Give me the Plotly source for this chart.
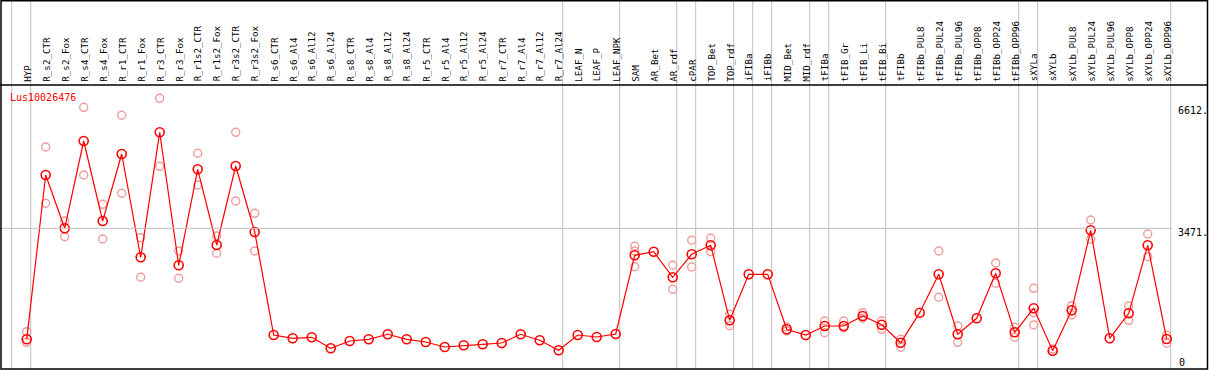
import plotly.graph_objects as go

# ---------------- data ----------------
categories = ["HYP", "R_s2_CTR", "R_s2_Fox", "R_s4_CTR", "R_s4_Fox", "R_r1_CTR", "R_r1_Fox",
              "R_r3_CTR", "R_r3_Fox", "R_r1s2_CTR", "R_r1s2_Fox", "R_r3s2_CTR", "R_r3s2_Fox",
              "R_s6_CTR", "R_s6_Al4", "R_s6_Al12", "R_s6_Al24", "R_s8_CTR", "R_s8_Al4",
              "R_s8_Al12", "R_s8_Al24", "R_r5_CTR", "R_r5_Al4", "R_r5_Al12", "R_r5_Al24",
              "R_r7_CTR", "R_r7_Al4", "R_r7_Al12", "R_r7_Al24", "LEAF_N", "LEAF_P", "LEAF_NPK",
              "SAM", "AR_Bet", "AR_rdf", "cPAR", "TOP_Bet", "TOP_rdf", "iFIBa", "iFIBb",
              "MID_Bet", "MID_rdf", "tFIBa", "tFIB_Gr", "tFIB_Li", "tFIB_Bi", "tFIBb",
              "tFIBb_PUL8", "tFIBb_PUL24", "tFIBb_PUL96", "tFIBb_OPP8", "tFIBb_OPP24",
              "tFIBb_OPP96", "sXYLa", "sXYLb", "sXYLb_PUL8", "sXYLb_PUL24", "sXYLb_PUL96",
              "sXYLb_OPP8", "sXYLb_OPP24", "sXYLb_OPP96"]

mean_values = [621, 4841, 3472, 5714, 3659, 5380, 2727, 5937, 2522, 4987, 3043, 5072, 3377,
               732, 647, 673, 390, 578, 621, 750, 621, 552, 424, 467, 493, 526, 750, 596, 339,
               732, 681, 758, 2779, 2871, 2214, 2804, 3035, 1109, 2291, 2291, 878, 732, 963,
               963, 1220, 996, 534, 1305, 2291, 750, 1161, 2316, 801, 1418, 329, 1366, 3421,
               647, 1289, 3035, 629]

replicates = [[817, 544], [5560, 4114], [3659, 3256], [6579, 4841], [4088, 3197],
              [6374, 4371], [3231, 2214], [6810, 5064], [2889, 2188], [5398, 4584],
              [3274, 2830], [5937, 4173], [3857, 2889],
              [], [], [], [], [], [], [], [], [], [], [], [], [], [], [], [], [], [], [],
              [3010, 2889, 2486], [], [2522, 1905], [3164, 2478], [3215, 2871], [1263, 971],
              [], [], [937, 835], [], [1091, 791], [1091, 912], [1305, 1161], [1091, 878],
              [621, 416], [], [2889, 1700], [963, 544], [], [2581, 2060], [930, 673],
              [1931, 1305, 989], [372], [1484, 1245], [3685, 3190], [], [1477, 1109],
              [3326, 2743], [732, 519]]

gene_name = "Lus10026476"
axis_ticks = [6612, 3471, 0]
axis_tick_text = ["6612.", "3471.", "0"]
separator_after = [-1, 0, 28, 31, 34, 35, 37, 38, 39, 41, 42, 45, 52, 53, 60]

# ---------------- geometry ----------------
W, H = 1209, 370
X0, DX = 26.7, 19.0          # pixel x of first category, spacing
Y0, KY = 363.5, 0.03894      # pixel y of value 0, pixels per unit


def px_to_x(px):
    return (px - X0) / DX


def py_to_paper(py):
    return 1 - py / H


def px_to_paper(px):
    return px / W


MONO = "DejaVu Sans Mono"

fig = go.Figure()

rx, ry = [], []
for i, reps in enumerate(replicates):
    for v in reps:
        rx.append(i)
        ry.append(v)

fig.add_trace(go.Scatter(
    x=rx, y=ry, mode="markers",
    marker=dict(symbol="circle-open", size=8, color="#f09c9c",
                line=dict(width=1.4, color="#f09c9c")),
    hoverinfo="skip"))

fig.add_trace(go.Scatter(
    x=list(range(len(categories))), y=mean_values, mode="lines+markers",
    line=dict(color="#ff0000", width=1.2),
    marker=dict(symbol="circle-open", size=9, color="#ff0000",
                line=dict(width=1.6, color="#ff0000")),
    text=categories, hoverinfo="text+y"))

shapes = []
# horizontal grid line at middle tick
shapes.append(dict(type="line", xref="paper", yref="y", x0=0, x1=px_to_paper(1172),
                   y0=axis_ticks[1], y1=axis_ticks[1],
                   line=dict(color="#c0c0c0", width=1)))
# vertical group separators
for s in separator_after:
    xs = s + 4.0 / DX
    shapes.append(dict(type="line", xref="x", yref="paper", x0=xs, x1=xs, y0=0, y1=1,
                       line=dict(color="#c0c0c0", width=1), layer="below"))
# header separator
shapes.append(dict(type="line", xref="paper", yref="paper", x0=0, x1=px_to_paper(1208),
                   y0=py_to_paper(85), y1=py_to_paper(85),
                   line=dict(color="black", width=1.5)))
# outer frame
shapes.append(dict(type="rect", xref="paper", yref="paper",
                   x0=px_to_paper(1), x1=px_to_paper(1207.5),
                   y0=py_to_paper(369), y1=py_to_paper(0.75),
                   line=dict(color="black", width=1.5)))

annotations = []
for i, c in enumerate(categories):
    annotations.append(dict(x=i, y=py_to_paper(83.5), xref="x", yref="paper", text=c,
                            textangle=-90, xanchor="center", yanchor="bottom",
                            showarrow=False, font=dict(family=MONO, size=9.2, color="black")))

annotations.append(dict(x=px_to_paper(8), y=py_to_paper(97), xref="paper", yref="paper",
                        text=gene_name, xanchor="left", yanchor="middle", showarrow=False,
                        font=dict(family=MONO, size=10, color="#ff0000")))

tick_centers = [110, 232, 362]
tick_left = [1175.5, 1175.5, 1177]
for t, cy, lx in zip(axis_tick_text, tick_centers, tick_left):
    annotations.append(dict(x=px_to_paper(lx), y=py_to_paper(cy), xref="paper", yref="paper",
                            text=t, xanchor="left", yanchor="middle", showarrow=False,
                            font=dict(family=MONO, size=10, color="black")))

fig.update_layout(
    width=W, height=H,
    margin=dict(l=0, r=0, t=0, b=0),
    paper_bgcolor="white", plot_bgcolor="white",
    showlegend=False,
    xaxis=dict(range=[px_to_x(0), px_to_x(W)], visible=False, fixedrange=True),
    yaxis=dict(range=[-(H - Y0) / KY, Y0 / KY], visible=False, fixedrange=True),
    shapes=shapes, annotations=annotations,
)

fig.write_html(
    "out.html",
    config={"displayModeBar": False},
    post_script="document.body.style.margin='0px';document.body.style.overflow='hidden';",
)
